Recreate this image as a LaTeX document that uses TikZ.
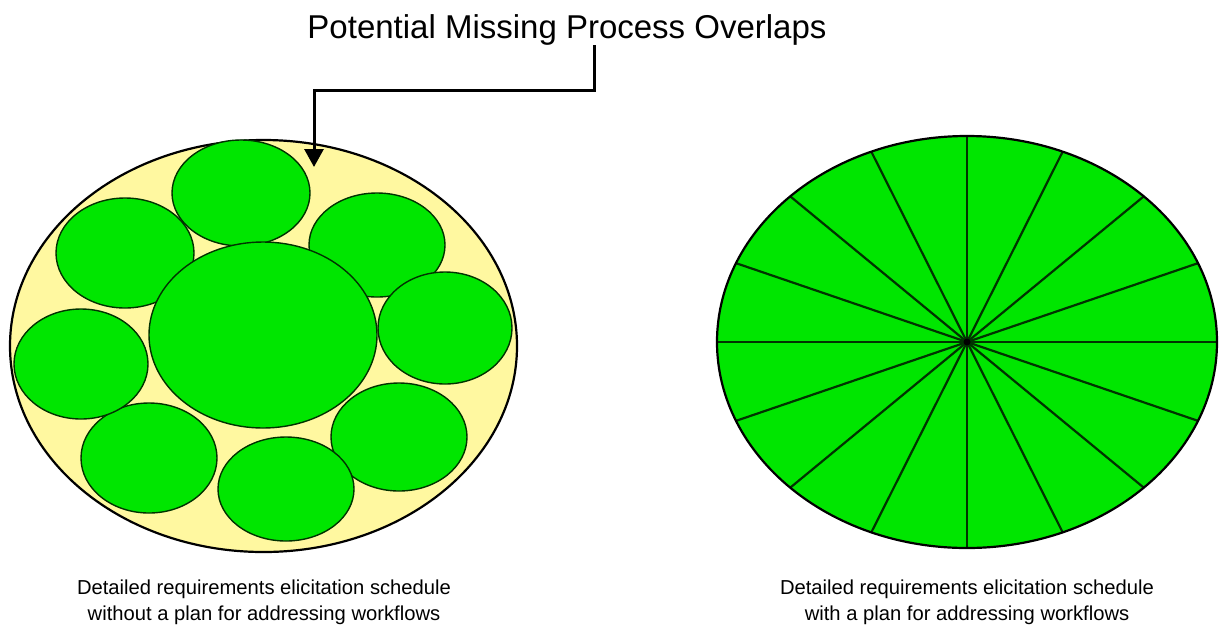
\documentclass[tikz,border=0pt]{standalone}
\usepackage{fontspec}
\setmainfont{Liberation Sans}
\usetikzlibrary{arrows.meta}
\definecolor{procgreen}{RGB}{0,230,0}
\definecolor{gapyellow}{RGB}{255,248,160}

\begin{document}
\begin{tikzpicture}[x=1pt, y=-1pt,
    blob/.style={draw=black!80!green, line width=1.4pt, fill=procgreen},
    rim/.style={draw=black, line width=2.2pt},
    spoke/.style={draw=black!80!green, line width=2.2pt},
    pointer/.style={line width=3pt, -{Triangle[length=18pt, width=19pt]}},
    caption/.style={align=center, inner sep=0, font=\fontsize{20.2}{26}\selectfont}]
  \useasboundingbox (0,0) rectangle (1220,633);
  \node[anchor=base, inner sep=0, font=\fontsize{33}{38}\selectfont] (title) at (567,38) {Potential Missing Process Overlaps};
  \coordinate (elbow) at (314,90);
  \coordinate (gap) at (314,167);
  \coordinate (hub) at (967,342);

  % without a plan: processes leave gaps
  \draw[rim, fill=gapyellow] (263.5,346) ellipse [x radius=253.5, y radius=206];
  \foreach \cx/\cy/\rx/\ry in {241/193/69/53, 377/245/68/52, 445/328/67/56, 399/437/68/54,
      286/489/68/52, 149/458/68/55, 81/364/67/55, 125/253/69/55, 263/335/114/93}
    \draw[blob] (\cx,\cy) ellipse [x radius=\rx, y radius=\ry];
  \draw[pointer] ([xshift=27pt]title.south) |- (elbow) -- (gap);

  % with a plan: workflows cover everything
  \fill[procgreen] (hub) ellipse [x radius=250, y radius=206];
  \foreach \a in {0,22.5,...,337.5}
    \draw[spoke] (hub) -- ++({250*cos(\a)},{206*sin(\a)});
  \draw[rim] (hub) ellipse [x radius=250, y radius=206];
  \fill (hub) circle (3.5);

  \node[caption] (capleft) at (264,602) {Detailed requirements elicitation schedule\\without a plan for addressing workflows};
  \node[caption] (capright) at (967,602) {Detailed requirements elicitation schedule\\with a plan for addressing workflows};
\end{tikzpicture}
\end{document}
